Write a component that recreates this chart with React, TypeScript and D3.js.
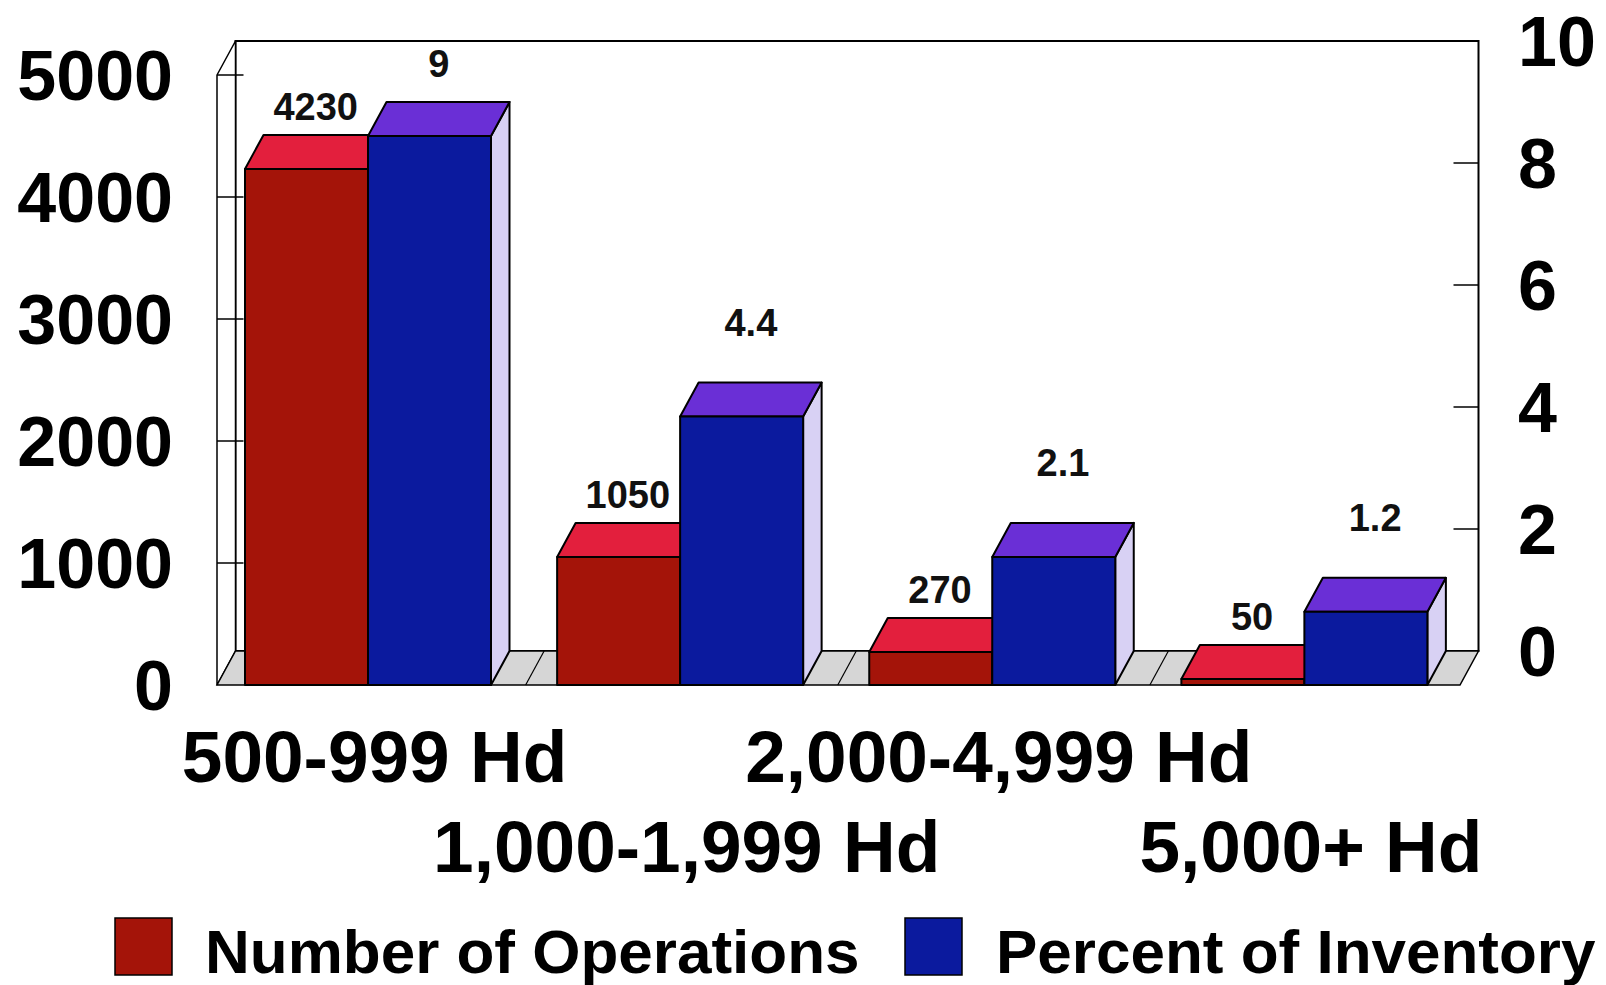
import React from "react";
import * as d3 from "d3";

// Herd-size classes and the two series plotted against them
const categories = ["500-999 Hd", "1,000-1,999 Hd", "2,000-4,999 Hd", "5,000+ Hd"];
const operations = [4230, 1050, 270, 50];
const percentInventory = [9, 4.4, 2.1, 1.2];
const leftTicks = [0, 1000, 2000, 3000, 4000, 5000];
const rightTicks = [0, 2, 4, 6, 8, 10];
const seriesNames = ["Number of Operations", "Percent of Inventory"];

const W = 1606;
const H = 985;
const FONT = "'Liberation Sans', Arial, Helvetica, sans-serif";

// 3D depth offset of the chart box
const DX = 18.5;
const DY = 34;

const FLOOR_FRONT = 685;
const TOP_FRONT = 75;
const FLOOR_LEFT = 217;
const FLOOR_RIGHT = 1460;

const COLORS = {
  redFront: "#a41409",
  redTop: "#e31f3d",
  redSide: "#f2c6cc",
  blueFront: "#0b1a9e",
  blueTop: "#6a2fd6",
  blueSide: "#d8d1f4",
  floor: "#d6d6d6",
};

export default function App() {
  const yLeft = d3.scaleLinear().domain([0, 5000]).range([FLOOR_FRONT, TOP_FRONT]);
  const yRight = d3.scaleLinear().domain([0, 10]).range([FLOOR_FRONT, TOP_FRONT]);

  const xGroup = d3.scaleBand<string>().domain(categories).range([213.5, 1462]).padding(0);
  const xSeries = d3
    .scaleBand<string>()
    .domain(seriesNames)
    .range([31.5, 31.5 + 246])
    .padding(0);

  const bw = xSeries.bandwidth();

  type Bar = { x0: number; x1: number; yt: number; front: string; top: string; side: string; label: string; labelY: number };

  const bars: Bar[][] = categories.map((c, i) => {
    const gx = xGroup(c)!;
    const redX = gx + xSeries(seriesNames[0])!;
    const blueX = gx + xSeries(seriesNames[1])!;
    const redTop = yLeft(operations[i]);
    const blueTop = yRight(percentInventory[i]);
    return [
      {
        x0: redX,
        x1: redX + bw,
        yt: redTop,
        front: COLORS.redFront,
        top: COLORS.redTop,
        side: COLORS.redSide,
        label: String(operations[i]),
        labelY: redTop - DY - 28,
      },
      {
        x0: blueX,
        x1: blueX + bw,
        yt: blueTop,
        front: COLORS.blueFront,
        top: COLORS.blueTop,
        side: COLORS.blueSide,
        label: String(percentInventory[i]),
        labelY: Math.max(blueTop - DY - 60, 64),
      },
    ];
  });

  const pts = (p: number[][]) => p.map((q) => q.join(",")).join(" ");

  const backLeft = FLOOR_LEFT + DX;
  const backRight = FLOOR_RIGHT + DX;
  const backFloor = FLOOR_FRONT - DY;
  const backTop = TOP_FRONT - DY;

  return (
    <svg
      width={W}
      height={H}
      viewBox={`0 0 ${W} ${H}`}
      style={{ position: "absolute", left: 0, top: 0, background: "#fff" }}
      fontFamily={FONT}
    >
      {/* back wall */}
      <rect x={backLeft} y={backTop} width={backRight - backLeft} height={backFloor - backTop} fill="#fff" stroke="#000" strokeWidth={2} />

      {/* left side wall */}
      <polygon
        points={pts([
          [FLOOR_LEFT, TOP_FRONT],
          [backLeft, backTop],
          [backLeft, backFloor],
          [FLOOR_LEFT, FLOOR_FRONT],
        ])}
        fill="#fff"
        stroke="#000"
        strokeWidth={1.5}
      />

      {/* floor */}
      <polygon
        points={pts([
          [FLOOR_LEFT, FLOOR_FRONT],
          [backLeft, backFloor],
          [backRight, backFloor],
          [FLOOR_RIGHT, FLOOR_FRONT],
        ])}
        fill={COLORS.floor}
        stroke="#000"
        strokeWidth={1.5}
      />
      {categories.slice(1).map((c) => {
        const x = xGroup(c)!;
        return <line key={c} x1={x} y1={FLOOR_FRONT} x2={x + DX} y2={backFloor} stroke="#000" strokeWidth={1.2} />;
      })}

      {/* left axis ticks on the side wall */}
      {leftTicks.slice(1).map((t) => (
        <line key={t} x1={FLOOR_LEFT} x2={backLeft + 8} y1={yLeft(t)} y2={yLeft(t)} stroke="#000" strokeWidth={1.5} />
      ))}
      {/* right axis ticks on the back wall */}
      {rightTicks.slice(1, -1).map((t) => (
        <line key={t} x1={backRight - 25} x2={backRight} y1={yRight(t) - DY} y2={yRight(t) - DY} stroke="#000" strokeWidth={1.5} />
      ))}

      {/* bars */}
      {bars.map((group, gi) => (
        <g key={gi}>
          {group.map((b, bi) => (
            <g key={bi} stroke="#000" strokeWidth={2} strokeLinejoin="round">
              <polygon
                points={pts([
                  [b.x1, b.yt],
                  [b.x1 + DX, b.yt - DY],
                  [b.x1 + DX, FLOOR_FRONT - DY],
                  [b.x1, FLOOR_FRONT],
                ])}
                fill={b.side}
              />
              <polygon
                points={pts([
                  [b.x0, b.yt],
                  [b.x1, b.yt],
                  [b.x1 + DX, b.yt - DY],
                  [b.x0 + DX, b.yt - DY],
                ])}
                fill={b.top}
              />
              <rect x={b.x0} y={b.yt} width={b.x1 - b.x0} height={FLOOR_FRONT - b.yt} fill={b.front} />
            </g>
          ))}
        </g>
      ))}

      {/* value labels */}
      {bars.flat().map((b, i) => (
        <text
          key={i}
          x={(b.x0 + b.x1) / 2 + DX / 2}
          y={b.labelY + 13}
          textAnchor="middle"
          fontSize={38}
          fontWeight="bold"
          fill="#111"
        >
          {b.label}
        </text>
      ))}

      {/* left axis labels */}
      {leftTicks.map((t) => (
        <text key={t} x={173} y={yLeft(t) + 25} textAnchor="end" fontSize={70} fontWeight="bold" fill="#000">
          {t}
        </text>
      ))}

      {/* right axis labels */}
      {rightTicks.map((t) => (
        <text key={t} x={1518} y={yRight(t) - DY + 25} textAnchor="start" fontSize={70} fontWeight="bold" fill="#000">
          {t}
        </text>
      ))}

      {/* category labels, staggered over two rows */}
      {categories.map((c, i) => (
        <text
          key={c}
          x={xGroup(c)! + xGroup.bandwidth() / 2 + 5}
          y={i % 2 === 0 ? 782 : 872}
          textAnchor="middle"
          fontSize={73}
          fontWeight="bold"
          fill="#000"
        >
          {c}
        </text>
      ))}

      {/* legend */}
      <rect x={115} y={918} width={57} height={57} fill={COLORS.redFront} stroke="#000" strokeWidth={1.5} />
      <text x={205} y={973} fontSize={62} fontWeight="bold" fill="#000">
        {seriesNames[0]}
      </text>
      <rect x={905} y={918} width={57} height={57} fill={COLORS.blueFront} stroke="#000" strokeWidth={1.5} />
      <text x={996} y={973} fontSize={62} fontWeight="bold" fill="#000">
        {seriesNames[1]}
      </text>
    </svg>
  );
}
